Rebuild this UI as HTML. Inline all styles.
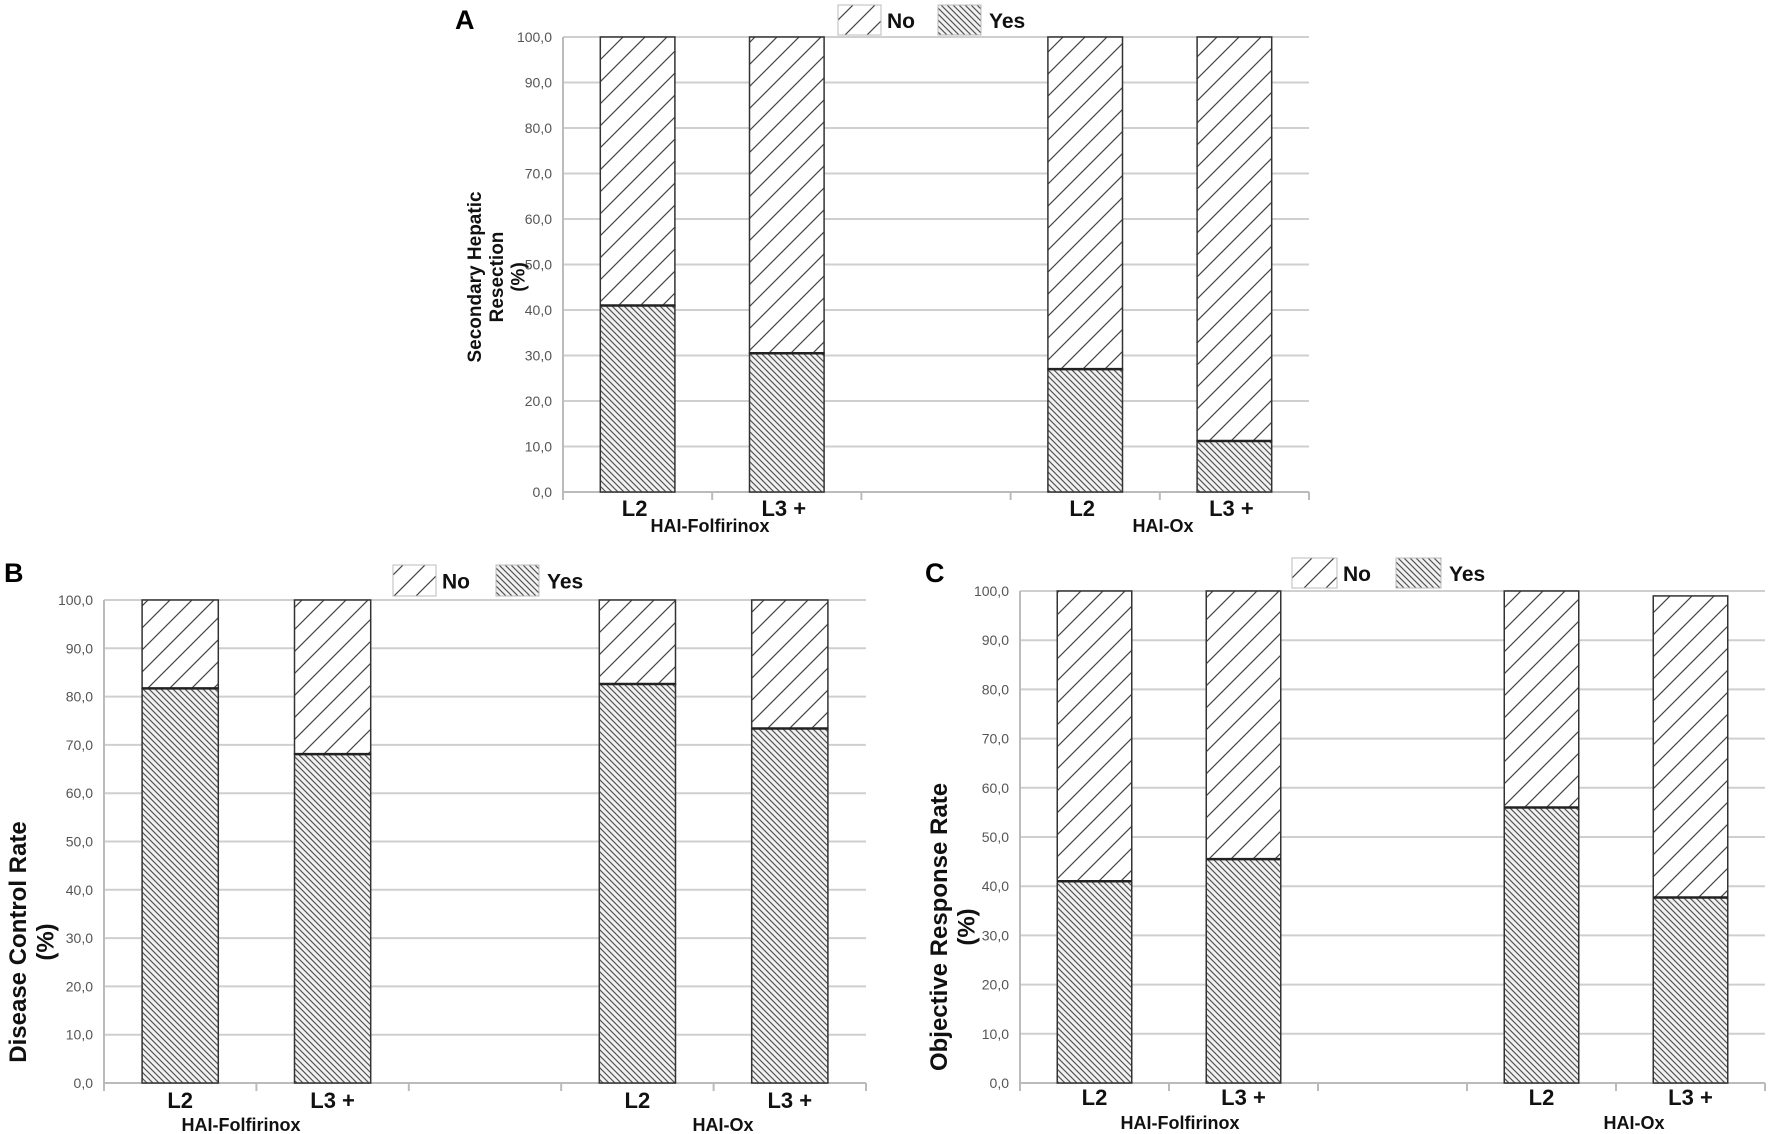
<!DOCTYPE html>
<html><head><meta charset="utf-8">
<style>
html,body{margin:0;padding:0;background:#fff;overflow:hidden;}
svg{display:block;}
.tick{font-family:"Liberation Sans Narrow","Liberation Sans",sans-serif;font-size:14px;fill:#555;}
.cat{font-family:"Liberation Sans Narrow","Liberation Sans",sans-serif;font-size:22px;font-weight:bold;fill:#111;}
.grp{font-family:"Liberation Sans Narrow","Liberation Sans",sans-serif;font-size:18px;font-weight:bold;fill:#111;}
.ytitle{font-family:"Liberation Sans",sans-serif;font-weight:bold;fill:#111;}
.panel{font-family:"Liberation Sans",sans-serif;font-size:27px;font-weight:bold;fill:#000;}
.leg{font-family:"Liberation Sans Narrow","Liberation Sans",sans-serif;font-size:21px;font-weight:bold;fill:#111;}
</style></head>
<body>
<svg id="root" width="1772" height="1134" viewBox="0 0 1772 1134" xmlns="http://www.w3.org/2000/svg">
<defs>
<pattern id="pNo" patternUnits="userSpaceOnUse" width="22" height="22">
<rect width="22" height="22" fill="#fff"/>
<path d="M-2,24 L24,-2 M-13,13 L13,-13 M9,35 L35,9" stroke="#444" stroke-width="1.2"/>
</pattern>
<pattern id="pYes" patternUnits="userSpaceOnUse" width="6" height="6">
<rect width="6" height="6" fill="#f2f2f2"/>
<path d="M0,0 L6,6 M-3,3 L3,9 M3,-3 L9,3" stroke="#555" stroke-width="1.2"/>
</pattern>
</defs>
</svg>
<script>
const categories = ["L2", "L3 +", "", "L2", "L3 +"];
const groups = ["HAI-Folfirinox", "HAI-Ox"];
const yTicks = [0, 10, 20, 30, 40, 50, 60, 70, 80, 90, 100];
const tickLabels = ["0,0","10,0","20,0","30,0","40,0","50,0","60,0","70,0","80,0","90,0","100,0"];
// Panel A: Secondary hepatic resection
const yesA = [41.0, 30.5, null, 27.0, 11.2];
const noA = [59.0, 69.5, null, 73.0, 88.8];
// Panel B: Disease control rate
const yesB = [81.7, 68.1, null, 82.6, 73.4];
const noB = [18.3, 31.9, null, 17.4, 26.6];
// Panel C: Objective response rate
const yesC = [41.0, 45.5, null, 56.0, 37.7];
const noC = [59.0, 54.5, null, 44.0, 61.3];

const NS = "http://www.w3.org/2000/svg";
const root = document.getElementById('root');
function mk(tag, attrs, parent, text){
  const e = document.createElementNS(NS, tag);
  for (const k in attrs) e.setAttribute(k, attrs[k]);
  if (text !== undefined) e.textContent = text;
  (parent || root).appendChild(e);
  return e;
}

function drawChart(cfg, yes, no){
  const g = mk('g', {});
  
  
  const slot = (cfg.right - cfg.left) / categories.length;
  const right = cfg.right;
  const y = v => cfg.y0 + (cfg.y100 - cfg.y0) * v / 100;
  const xc = i => cfg.left + slot * (i + 0.5);
  yTicks.forEach((t, i) => {
    const gl = mk('line', {x1: cfg.left, x2: right, y1: y(t), y2: y(t), stroke: '#cfcfcf', 'stroke-width': 2}, g);
    
    
    const tl = mk('text', {x: cfg.left - 11, y: y(t) + 5, 'text-anchor': 'end', class: 'tick'}, g, tickLabels[i]);
    
    
  });
  const ya = mk('line', {x1: cfg.left, x2: cfg.left, y1: y(100), y2: y(0) + 6, stroke: '#bbb', 'stroke-width': 2}, g);
  
  
  const xa = mk('line', {x1: cfg.left, x2: right, y1: y(0), y2: y(0), stroke: '#bbb', 'stroke-width': 2}, g);
  
  
  for (let i = 0; i <= categories.length; i++) {
    const tk = mk('line', {x1: cfg.left + slot * i, x2: cfg.left + slot * i, y1: y(0), y2: y(0) + 8, stroke: '#bbb', 'stroke-width': 2}, g);
    
    
  }
  const bw = slot * 0.5;
  categories.forEach((c, i) => {
    if (yes[i] === null) return;
    const x = xc(i) - bw / 2;
    const top = yes[i] + no[i];
    const rn = mk('rect', {x: x, y: y(top), width: bw, height: y(yes[i]) - y(top), fill: 'url(#pNo)', stroke: '#333', 'stroke-width': 1.5}, g);
    
    
    const ry = mk('rect', {x: x, y: y(yes[i]), width: bw, height: y(0) - y(yes[i]), fill: 'url(#pYes)', stroke: '#333', 'stroke-width': 1.5}, g);
    
    
    const bl = mk('line', {x1: x, x2: x + bw, y1: y(yes[i]), y2: y(yes[i]), stroke: '#222', 'stroke-width': 2.5}, g);
    
    
    const cl = mk('text', {x: xc(i) + (cfg.catDx || 0), y: cfg.catY, 'text-anchor': 'middle', class: 'cat'}, g, c);
    
    
  });
  groups.forEach((gr, j) => {
    const gl = mk('text', {x: cfg.grpX[j], y: cfg.grpY, 'text-anchor': 'middle', class: 'grp'}, g, gr);
    
    
  });
  const tt = mk('text', {transform: `translate(${cfg.titleX},${cfg.titleY}) rotate(-90)`, 'text-anchor': 'middle', class: 'ytitle', 'font-size': cfg.titleSize}, g);
  
  
  cfg.title.forEach((line, k) => {
    mk('tspan', {x: 0, dy: k === 0 ? 0 : cfg.titleSize * 1.15}, tt, line);
  });
  const pl = mk('text', {x: cfg.panelX, y: cfg.panelY, class: 'panel'}, g, cfg.panel);
  
  
  const lg = mk('g', {}, g);
  
  
  const L = cfg.leg;
  const b1 = mk('rect', {x: L.x, y: L.y, width: L.w, height: L.h, fill: 'url(#pNo)', stroke: '#bbb', 'stroke-width': 1}, lg);
  
  
  const t1 = mk('text', {x: L.x + L.w + 6, y: L.y + L.h * 0.5 + 8, class: 'leg'}, lg, 'No');
  
  
  const b2 = mk('rect', {x: L.x2, y: L.y, width: L.w, height: L.h, fill: 'url(#pYes)', stroke: '#bbb', 'stroke-width': 1}, lg);
  
  
  const t2 = mk('text', {x: L.x2 + L.w + 8, y: L.y + L.h * 0.5 + 8, class: 'leg'}, lg, 'Yes');
  
  
}

drawChart({name: 'chart-a', panel: 'A', panelX: 455, panelY: 29, left: 563, right: 1309, y0: 492, y100: 37,
  catY: 516, grpX: [710, 1163], grpY: 532, catDx: -3,
  title: ['Secondary  Hepatic', 'Resection', '(%)'], titleX: 481, titleY: 277, titleSize: 19,
  leg: {x: 838, x2: 938, y: 5, w: 43, h: 30}}, yesA, noA);

drawChart({name: 'chart-b', panel: 'B', panelX: 4, panelY: 582, left: 104, right: 866, y0: 1083, y100: 600,
  catY: 1108, grpX: [241, 723], grpY: 1131, catDx: 0,
  title: ['Disease Control Rate', '(%)'], titleX: 26, titleY: 942, titleSize: 24,
  leg: {x: 393, x2: 496, y: 565, w: 43, h: 31}}, yesB, noB);

drawChart({name: 'chart-c', panel: 'C', panelX: 925, panelY: 582, left: 1020, right: 1765, y0: 1083, y100: 591,
  catY: 1105, grpX: [1180, 1634], grpY: 1129, catDx: 0,
  title: ['Objective Response Rate', '(%)'], titleX: 947, titleY: 927, titleSize: 24,
  leg: {x: 1292, x2: 1396, y: 558, w: 45, h: 30}}, yesC, noC);
</script>
</body></html>
